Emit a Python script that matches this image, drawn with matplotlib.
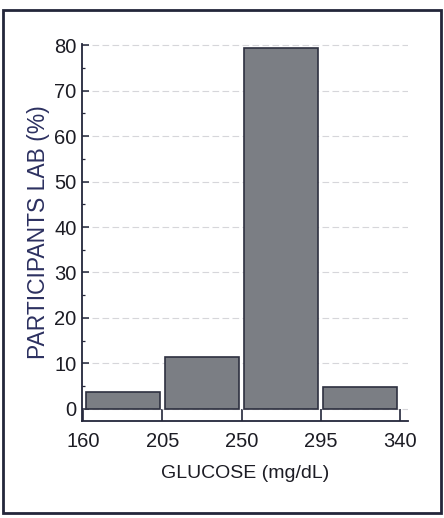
import matplotlib
matplotlib.use("Agg")
import matplotlib.pyplot as plt
from matplotlib.patches import Rectangle
from matplotlib.ticker import MultipleLocator

bin_edges = [160, 205, 250, 295, 340]
percentages = [3.6, 11.5, 79.5, 4.7]
y_ticks = [0, 10, 20, 30, 40, 50, 60, 70, 80]
x_label = "GLUCOSE (mg/dL)"
y_label = "PARTICIPANTS LAB (%)"

narrow = ['Liberation Sans Narrow', 'Liberation Sans', 'DejaVu Sans']
regular = ['Liberation Sans', 'DejaVu Sans']
ink = '#23263a'

fig = plt.figure(figsize=(4.44, 5.18), dpi=100)
fig.patch.set_facecolor('white')
ax = fig.add_axes([82/444, 1-421/518, (408-82)/444, (421-44)/518])

centers = [(a + b) / 2 for a, b in zip(bin_edges[:-1], bin_edges[1:])]
ax.bar(centers, percentages, width=42, color='#7b7e84', edgecolor='#2e3040',
       linewidth=1.2, zorder=3)

ax.set_xlim(159.4, 344.5)
ax.set_ylim(-2.7, 80.3)
ax.set_xticks(bin_edges)
ax.set_yticks(y_ticks)
ax.yaxis.set_minor_locator(MultipleLocator(5))
ax.yaxis.grid(True, which='major', linestyle=(0, (6, 3)), color='#d6d6da',
              linewidth=0.8, zorder=0)
ax.set_axisbelow(True)

for s in ['top', 'right']:
    ax.spines[s].set_visible(False)
for s in ['left', 'bottom']:
    ax.spines[s].set_color(ink)
    ax.spines[s].set_linewidth(1.3)

ax.tick_params(axis='x', direction='in', length=9, width=1.2, color=ink, pad=8)
ax.tick_params(axis='y', which='major', direction='in', length=5, width=1.1,
               color=ink, pad=4)
ax.tick_params(axis='y', which='minor', direction='in', length=2.5, width=0.9,
               color=ink)

for lab in ax.get_xticklabels() + ax.get_yticklabels():
    lab.set_family(narrow)
    lab.set_fontsize(14.5)
    lab.set_color('#1c1c24')

ax.set_xlabel(x_label, family=narrow, fontsize=14, color='#1c1c24', labelpad=10)
ax.set_ylabel(y_label, family=regular, fontsize=16.5, color='#2c3060', labelpad=3)

fig.patches.append(Rectangle((3/444, 1-513/518), (441-3)/444, (513-10)/518,
                             transform=fig.transFigure, fill=False,
                             edgecolor=ink, linewidth=2))

fig.savefig('out.png', dpi=100)
